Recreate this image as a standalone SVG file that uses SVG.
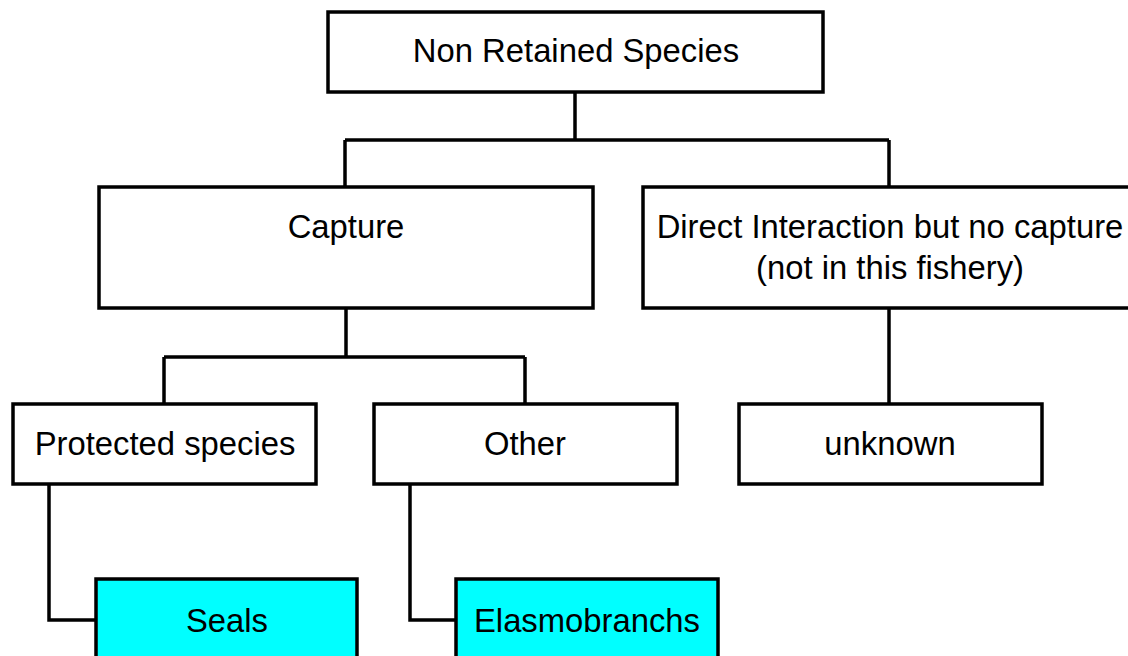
<svg xmlns="http://www.w3.org/2000/svg" width="1128" height="656" viewBox="0 0 1128 656">
<style>
.box{fill:#fff;stroke:#000;stroke-width:3.5}
.hl{fill:#00ffff;stroke:#000;stroke-width:3.5}
.t{font-family:"Liberation Sans",Arial,sans-serif;font-size:32.8px;fill:#000;text-anchor:middle}
.c{fill:none;stroke:#000;stroke-width:3.5}
</style>
<rect width="1128" height="656" fill="#fff"/>
<g id="connectors">
<path class="c" d="M575 92V140M345 140H889M345 140V187M889 140V187"/>
<path class="c" d="M346 308V357M164 357H525M164 357V404M525 357V404"/>
<path class="c" d="M889 308V404"/>
<path class="c" d="M49 484V620H96"/>
<path class="c" d="M410 484V620H456"/>
</g>
<g id="root"><rect class="box" x="328" y="12" width="495" height="80"/><text class="t" x="576" y="62">Non Retained Species</text></g>
<g id="capture"><rect class="box" x="99" y="187" width="494" height="121"/><text class="t" x="346" y="238">Capture</text></g>
<g id="direct"><rect class="box" x="643" y="187" width="494" height="121"/><text class="t" x="890" y="238">Direct Interaction but no capture</text><text class="t" x="890" y="279">(not in this fishery)</text></g>
<g id="protected"><rect class="box" x="13" y="404" width="303" height="80"/><text class="t" x="165" y="455">Protected species</text></g>
<g id="other"><rect class="box" x="374" y="404" width="303" height="80"/><text class="t" x="525" y="455">Other</text></g>
<g id="unknown"><rect class="box" x="739" y="404" width="303" height="80"/><text class="t" x="890" y="455">unknown</text></g>
<g id="seals"><rect class="hl" x="96" y="579" width="261" height="90"/><text class="t" x="227" y="632">Seals</text></g>
<g id="elasmobranchs"><rect class="hl" x="456" y="579" width="262" height="90"/><text class="t" x="587" y="632">Elasmobranchs</text></g>
</svg>
